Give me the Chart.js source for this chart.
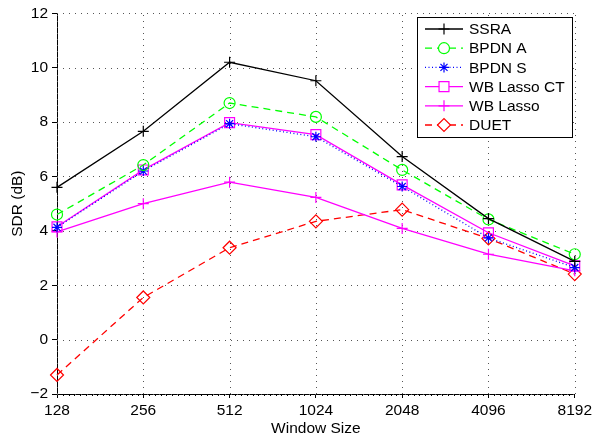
<!DOCTYPE html>
<html>
<head>
<meta charset="utf-8">
<script src="https://cdn.jsdelivr.net/npm/chart.js@4.4.0/dist/chart.umd.min.js"></script>
<style>
    html, body { margin: 0; padding: 0; background: #fff; }
</style>
</head>
<body>
<canvas id="sdrChart" width="595" height="438"></canvas>
<script>
// x categories (window sizes) and y ticks
const windowSizes = ['128', '256', '512', '1024', '2048', '4096', '8192'];
const yTicks = [-2, 0, 2, 4, 6, 8, 10, 12];

// SDR (dB) per method
const ssra      = [5.60, 7.66, 10.20, 9.52, 6.73, 4.45, 2.88];
const bpdnA     = [4.60, 6.42, 8.70, 8.19, 6.24, 4.42, 3.14];
const bpdnS     = [4.13, 6.20, 7.94, 7.46, 5.63, 3.74, 2.65];
const wbLassoCT = [4.15, 6.24, 7.98, 7.54, 5.69, 3.93, 2.71];
const wbLasso   = [3.96, 5.00, 5.79, 5.23, 4.09, 3.14, 2.53];
const duet      = [-1.30, 1.55, 3.38, 4.35, 4.78, 3.72, 2.41];

Chart.defaults.font.family = '"Liberation Sans", Arial, Helvetica, sans-serif';
Chart.defaults.font.size = 15.5;
Chart.defaults.color = '#000';

function series(label, data, color, style, radius, dash) {
    return {
        label: label,
        data: data,
        borderColor: color,
        backgroundColor: color,
        borderWidth: 1.3,
        borderDash: dash,
        pointStyle: style,
        pointRadius: radius,
        pointBorderWidth: 1.2,
        pointBorderColor: color,
        pointBackgroundColor: 'rgba(0,0,0,0)',
        tension: 0,
        fill: false
    };
}

// dotted grid at every major tick (drawn under the lines)
const dottedGrid = {
    id: 'dottedGrid',
    beforeDatasetsDraw(chart) {
        const {ctx, chartArea: a, scales: {x, y}} = chart;
        ctx.save();
        ctx.strokeStyle = '#555';
        ctx.lineWidth = 1;
        ctx.setLineDash([1, 5]);
        ctx.beginPath();
        x.ticks.forEach((t, i) => {
            const px = Math.round(x.getPixelForTick(i)) + 0.5;
            ctx.moveTo(px, a.bottom);
            ctx.lineTo(px, a.top);
        });
        y.ticks.forEach((t, i) => {
            const py = Math.round(y.getPixelForTick(i)) + 0.5;
            ctx.moveTo(a.left, py);
            ctx.lineTo(a.right, py);
        });
        ctx.stroke();
        ctx.restore();
    }
};

// legend box drawn inside the plot, like the MATLAB one
const insideLegend = {
    id: 'insideLegend',
    afterDraw(chart) {
        const ctx = chart.ctx;
        const x0 = 417, y0 = 17, w = 155, h = 120;
        ctx.save();
        ctx.fillStyle = '#fff';
        ctx.fillRect(x0, y0, w, h);
        ctx.strokeStyle = '#000';
        ctx.lineWidth = 1;
        ctx.strokeRect(x0 + 0.5, y0 + 0.5, w, h);
        ctx.font = '15.5px "Liberation Sans", Arial, sans-serif';
        ctx.textBaseline = 'middle';
        chart.data.datasets.forEach((ds, i) => {
            const y = y0 + 12 + i * 19.2;
            ctx.strokeStyle = ds.borderColor;
            ctx.lineWidth = ds.borderWidth;
            ctx.setLineDash(ds.borderDash || []);
            ctx.beginPath();
            ctx.moveTo(x0 + 8, y);
            ctx.lineTo(x0 + 46, y);
            ctx.stroke();
            ctx.setLineDash([]);
            ctx.lineWidth = ds.pointBorderWidth;
            ctx.fillStyle = '#fff';
            Chart.helpers.drawPoint(ctx, {
                pointStyle: ds.pointStyle,
                radius: ds.pointRadius,
                rotation: 0,
                borderWidth: ds.pointBorderWidth
            }, x0 + 27, y);
            ctx.fillStyle = '#000';
            ctx.fillText(ds.label, x0 + 52, y + 1);
        });
        ctx.restore();
    }
};

// small minor ticks along the bottom axis
const minorTicks = {
    id: 'minorTicks',
    afterDraw(chart) {
        const xs = chart.scales.x;
        const ctx = chart.ctx;
        const yb = chart.chartArea.bottom;
        ctx.save();
        ctx.strokeStyle = '#000';
        ctx.lineWidth = 1;
        ctx.beginPath();
        for (let i = 0; i < windowSizes.length - 1; i++) {
            for (let k = 1; k < 15; k++) {
                const px = Math.round(xs.getPixelForValue(i + k / 15)) + 0.5;
                ctx.moveTo(px, yb);
                ctx.lineTo(px, yb + 2);
            }
        }
        ctx.stroke();
        ctx.restore();
    }
};

const gridOpts = (len) => ({
    drawOnChartArea: false,
    drawTicks: true,
    tickLength: len,
    tickColor: '#000',
    tickWidth: 1
});

new Chart(document.getElementById('sdrChart').getContext('2d'), {
    type: 'line',
    data: {
        labels: windowSizes,
        datasets: [
            series('SSRA', ssra, '#000000', 'cross', 5.5, []),
            series('BPDN A', bpdnA, '#00ff00', 'circle', 5.5, [7, 5]),
            series('BPDN S', bpdnS, '#0000ff', 'star', 5, [1, 2.5]),
            series('WB Lasso CT', wbLassoCT, '#ff00ff', 'rect', 7, []),
            series('WB Lasso', wbLasso, '#ff00ff', 'cross', 5.5, []),
            series('DUET', duet, '#ff0000', 'rectRot', 6.5, [7, 5])
        ]
    },
    options: {
        responsive: false,
        animation: false,
        layout: { padding: { top: 10, right: 18, left: 0, bottom: 0 } },
        plugins: {
            legend: { display: false },
            tooltip: { enabled: false }
        },
        scales: {
            x: {
                type: 'category',
                offset: false,
                afterFit(scale) { scale.height = 44; },
                grid: gridOpts(4),
                border: { display: true, color: '#000', width: 1 },
                ticks: { padding: 3, maxRotation: 0, autoSkip: false },
                title: { display: true, text: 'Window Size', padding: { top: 0, bottom: 0 } }
            },
            y: {
                min: -2,
                max: 12,
                afterFit(scale) { scale.width = 57; },
                afterBuildTicks(scale) { scale.ticks = yTicks.map(v => ({ value: v })); },
                grid: gridOpts(5),
                border: { display: true, color: '#000', width: 1 },
                ticks: {
                    padding: 4,
                    callback: v => v < 0 ? '\u2212' + Math.abs(v) : String(v)
                },
                title: { display: true, text: 'SDR (dB)', padding: { top: 8, bottom: 0 } }
            }
        }
    },
    plugins: [dottedGrid, insideLegend, minorTicks]
});
</script>
</body>
</html>
